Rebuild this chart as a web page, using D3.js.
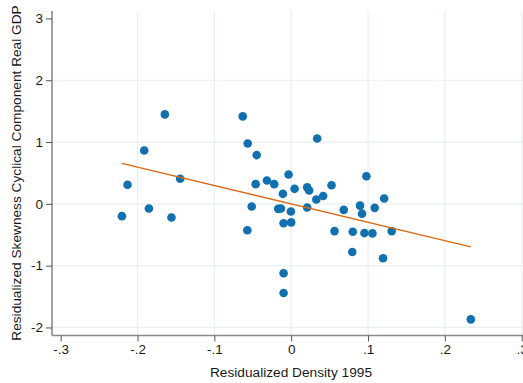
<!DOCTYPE html>
<html>
<head>
<meta charset="utf-8">
<script src="https://cdn.jsdelivr.net/npm/d3@7/dist/d3.min.js"></script>
<style>
  html, body { margin: 0; padding: 0; background: #fff; }
  svg { display: block; font-family: "Liberation Sans", Arial, Helvetica, sans-serif; }
</style>
</head>
<body>
<svg id="chart" width="523" height="383"></svg>
<script>
// Residualized density (1995) against residualized skewness of the cyclical GDP component
const densityX = [
  -0.2203, -0.2130, -0.1913, -0.1852, -0.1644, -0.1558, -0.1445, -0.0631,
  -0.0566, -0.0449, -0.0316, -0.0462, -0.0221, -0.0108, 0.0044, -0.0034,
  0.0338, 0.0208, 0.0234, 0.0525, 0.0327, 0.0416, 0.0979, 0.1210,
  -0.0514, -0.0169, -0.0134, -0.0004, 0.0208, 0.0684, 0.0896, 0.0922,
  0.1087, -0.0571, -0.0099, 0.0000, 0.0564, 0.0801, 0.0953, 0.1057,
  0.1308, 0.0795, 0.1195, -0.0099, -0.0099, 0.2338
];
const skewnessY = [
  -0.199, 0.308, 0.864, -0.076, 1.447, -0.222, 0.405, 1.415,
  0.977, 0.789, 0.378, 0.319, 0.319, 0.162, 0.243, 0.475,
  1.058, 0.267, 0.216, 0.300, 0.070, 0.126, 0.446, 0.086,
  -0.044, -0.081, -0.076, -0.125, -0.060, -0.097, -0.029, -0.159,
  -0.065, -0.426, -0.313, -0.300, -0.441, -0.451, -0.473, -0.478,
  -0.441, -0.780, -0.880, -1.123, -1.442, -1.869
];
const xTicks = [-0.3, -0.2, -0.1, 0, 0.1, 0.2, 0.3];
const xTickLabels = ["-.3", "-.2", "-.1", "0", ".1", ".2", ".3"];
const yTicks = [-2, -1, 0, 1, 2, 3];
const yTickLabels = ["-2", "-1", "0", "1", "2", "3"];
const xGridTicks = [-0.2, -0.1, 0, 0.1, 0.2, 0.3];
const yGridTicks = [-2, -1, 0, 1, 2];
const xTitle = "Residualized Density 1995";
const yTitle = "Residualized Skewness Cyclical Component Real GDP";

const svg = d3.select("#chart");
const plotLeft = 52, plotRight = 530, plotTop = 11, plotBottom = 335.5;

const x = d3.scaleLinear().domain([-0.3113, 0.3108]).range([plotLeft, plotRight]);
const y = d3.scaleLinear().domain([-2.13, 3.12]).range([plotBottom, plotTop]);

const gridColor = "#e6eff2";
const axisColor = "#8a8a8a";

// grid lines
svg.append("g").selectAll("line").data(xGridTicks).join("line")
  .attr("x1", d => x(d)).attr("x2", d => x(d))
  .attr("y1", plotTop).attr("y2", plotBottom)
  .attr("stroke", gridColor).attr("stroke-width", 1.2);
svg.append("g").selectAll("line").data(yGridTicks).join("line")
  .attr("x1", plotLeft).attr("x2", plotRight)
  .attr("y1", d => y(d)).attr("y2", d => y(d))
  .attr("stroke", gridColor).attr("stroke-width", 1.2);

// least-squares fit
const n = densityX.length;
const mx = d3.mean(densityX), my = d3.mean(skewnessY);
let sxy = 0, sxx = 0;
for (let i = 0; i < n; i++) {
  sxy += (densityX[i] - mx) * (skewnessY[i] - my);
  sxx += (densityX[i] - mx) ** 2;
}
const slope = sxy / sxx, intercept = my - slope * mx;
const [xmin, xmax] = d3.extent(densityX);

// scatter points
svg.append("g").selectAll("circle").data(densityX).join("circle")
  .attr("cx", d => x(d))
  .attr("cy", (d, i) => y(skewnessY[i]))
  .attr("r", 4.3)
  .attr("fill", "#1170b0");

// fitted line
svg.append("line")
  .attr("x1", x(xmin)).attr("y1", y(intercept + slope * xmin))
  .attr("x2", x(xmax)).attr("y2", y(intercept + slope * xmax))
  .attr("stroke", "#db6a14").attr("stroke-width", 1.3);

// axes
const xAxis = d3.axisBottom(x).tickValues(xTicks)
  .tickFormat((d, i) => xTickLabels[i]).tickSize(6).tickPadding(3).tickSizeOuter(0);
const yAxis = d3.axisLeft(y).tickValues(yTicks)
  .tickFormat((d, i) => yTickLabels[i]).tickSize(6).tickPadding(3).tickSizeOuter(0);

const gx = svg.append("g").attr("transform", `translate(0,${plotBottom})`).call(xAxis);
const gy = svg.append("g").attr("transform", `translate(${plotLeft},0)`).call(yAxis);
[gx, gy].forEach(g => {
  g.select(".domain").attr("stroke", axisColor).attr("stroke-width", 1.6);
  g.selectAll(".tick line").attr("stroke", "#555").attr("stroke-width", 1);
  g.selectAll(".tick text").attr("fill", "#1a1a1a")
    .style("font-size", "13.5px").style("font-family", "Liberation Sans, Arial, sans-serif");
});
gy.select(".domain").attr("d", `M0,${plotTop}V${plotBottom}`);
gx.select(".domain").attr("d", `M${plotLeft},0H${plotRight}`);

// axis titles
svg.append("text")
  .attr("x", 291).attr("y", 377)
  .attr("text-anchor", "middle")
  .attr("fill", "#1a1a1a")
  .style("font-size", "13.7px")
  .text(xTitle);
svg.append("text")
  .attr("transform", "translate(21,173) rotate(-90)")
  .attr("text-anchor", "middle")
  .attr("fill", "#1a1a1a")
  .style("font-size", "13.7px")
  .text(yTitle);
</script>
</body>
</html>
